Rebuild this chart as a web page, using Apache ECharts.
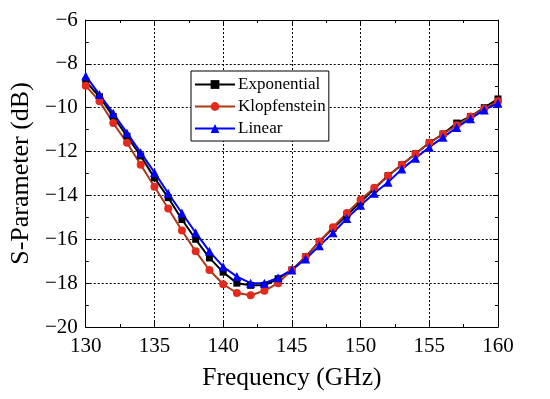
<!DOCTYPE html>
<html><head><meta charset="utf-8">
<script src="https://cdn.jsdelivr.net/npm/echarts@6/dist/echarts.min.js"></script>
<style>html,body{margin:0;padding:0;background:#fff}#c{width:550px;height:399px}</style>
</head><body><div id="c"></div>
<script>
const freq = [130,131,132,133,134,135,136,137,138,139,140,141,142,143,144,145,146,147,148,149,150,151,152,153,154,155,156,157,158,159,160];
const exponential = [-8.8,-9.5,-10.4,-11.3,-12.2,-13.2,-14.1,-15.1,-16.0,-16.85,-17.5,-18.0,-18.1,-18.1,-17.8,-17.4,-16.8,-16.1,-15.5,-14.9,-14.3,-13.7,-13.1,-12.6,-12.1,-11.6,-11.2,-10.7,-10.4,-10.0,-9.6];
const klopfenstein = [-9.0,-9.7,-10.7,-11.6,-12.6,-13.6,-14.6,-15.6,-16.55,-17.4,-18.05,-18.45,-18.55,-18.35,-18.0,-17.4,-16.8,-16.1,-15.45,-14.8,-14.2,-13.65,-13.1,-12.6,-12.1,-11.6,-11.2,-10.8,-10.4,-10.05,-9.7];
const linear = [-8.55,-9.4,-10.25,-11.15,-12.05,-12.95,-13.9,-14.8,-15.7,-16.55,-17.25,-17.7,-18.0,-18.0,-17.75,-17.4,-16.9,-16.3,-15.7,-15.05,-14.45,-13.9,-13.4,-12.8,-12.3,-11.8,-11.35,-10.9,-10.5,-10.1,-9.8];
const names = ['Exponential','Klopfenstein','Linear'];
const xTicks = {min:130, max:160, interval:5};
const yTicks = {min:-20, max:-6, interval:2};

const FONT = '"Liberation Serif","Times New Roman",serif';
const pair = (ys) => freq.map((f,i)=>[f, ys[i]]);
const chart = echarts.init(document.getElementById('c'), null, {renderer:'canvas'});
const axisCommon = {
  axisLine:{show:true, lineStyle:{color:'#000', width:1}},
  axisTick:{show:true, inside:true, length:5, lineStyle:{color:'#000'}},
  minorTick:{show:true, splitNumber:2, length:3, lineStyle:{color:'#000'}},
};
chart.setOption({
  animation:false,
  backgroundColor:'#fff',
  grid:{left:83, right:52, top:20, bottom:72, containLabel:false},
  legend:{
    left:191, top:71, orient:'vertical',
    data:names,
    backgroundColor:'#fff', borderColor:'#000', borderWidth:1,
    padding:[5,3,4,3], itemGap:5, itemWidth:40, itemHeight:11,
    textStyle:{fontFamily:FONT, fontSize:17, color:'#000', padding:[0,0,0,-2]}
  },
  xAxis:[{
    type:'value', min:xTicks.min, max:xTicks.max, interval:xTicks.interval,
    ...axisCommon,
    axisLabel:{fontFamily:FONT, fontSize:21, color:'#000', margin:9},
    splitLine:{show:true, lineStyle:{color:'#000', type:[2,2], width:1}},
    name:'Frequency (GHz)', nameLocation:'middle', nameGap:38,
    nameTextStyle:{fontFamily:FONT, fontSize:25.5, color:'#000'}
  },{
    type:'value', position:'top', min:xTicks.min, max:xTicks.max, interval:xTicks.interval,
    ...axisCommon, axisLabel:{show:false}, splitLine:{show:false}
  }],
  yAxis:[{
    type:'value', min:yTicks.min, max:yTicks.max, interval:yTicks.interval,
    ...axisCommon,
    axisLabel:{fontFamily:FONT, fontSize:21, color:'#000', margin:8,
      formatter:v=>String(v).replace('-','\u2212')},
    splitLine:{show:true, lineStyle:{color:'#000', type:[2,2], width:1}},
    name:'S-Parameter (dB)', nameLocation:'middle', nameGap:50,
    nameTextStyle:{fontFamily:FONT, fontSize:26, color:'#000'}
  },{
    type:'value', position:'right', min:yTicks.min, max:yTicks.max, interval:yTicks.interval,
    ...axisCommon, axisLabel:{show:false}, splitLine:{show:false}
  }],
  series:[
    {name:names[0], type:'line', data:pair(exponential), symbol:'rect', symbolSize:7,
      lineStyle:{color:'#000', width:2}, itemStyle:{color:'#000'}, color:'#000'},
    {name:names[1], type:'line', data:pair(klopfenstein), symbol:'circle', symbolSize:8,
      lineStyle:{color:'#a83a1a', width:2}, itemStyle:{color:'#e32a1c'}, color:'#e32a1c'},
    {name:names[2], type:'line', data:pair(linear), symbol:'triangle', symbolSize:9,
      lineStyle:{color:'#0000ff', width:2}, itemStyle:{color:'#0000ff'}, color:'#0000ff'}
  ]
});
</script></body></html>
